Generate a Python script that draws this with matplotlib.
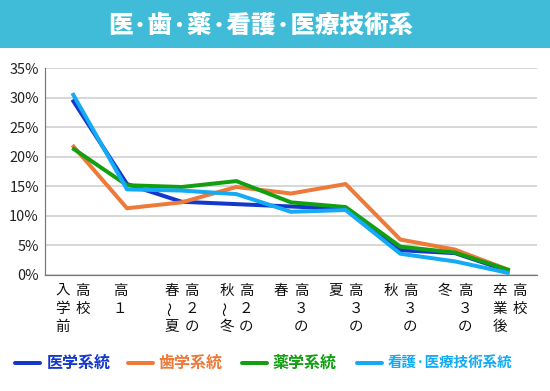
import matplotlib
matplotlib.use("Agg")
import matplotlib.pyplot as plt
from matplotlib.patches import Rectangle
from matplotlib.lines import Line2D

plt.rcParams['font.family'] = ['Noto Sans CJK JP', 'DejaVu Sans']

title = "医·歯·薬·看護·医療技術系"
# x labels: (left column, right column) of vertical text
cat_left = ["入学前", "", "春～夏", "秋～冬", "春", "夏", "秋", "冬", "卒業後"]
cat_right = ["高校", "高１", "高２の", "高２の", "高３の", "高３の", "高３の", "高３の", "高校"]

series_names = ["医学系統", "歯学系統", "薬学系統", "看護·医療技術系統"]
igaku = [29.7, 15.4, 12.4, 12.0, 11.6, 11.2, 4.2, 3.7, 0.6]
shigaku = [22.0, 11.3, 12.3, 14.9, 13.8, 15.4, 6.0, 4.3, 0.8]
yakugaku = [21.5, 15.2, 14.9, 15.9, 12.3, 11.5, 4.8, 3.8, 0.8]
kango = [30.8, 14.5, 14.3, 13.7, 10.7, 11.0, 3.6, 2.3, 0.3]
colors = ["#1438cc", "#ee7a3a", "#12a012", "#14aaf5"]

yticks = [0, 5, 10, 15, 20, 25, 30, 35]

W, H = 550, 391
fig = plt.figure(figsize=(W / 72, H / 72), dpi=72)
fig.patch.set_facecolor("white")

# title bar
fig.patches.append(Rectangle((0, 1 - 48 / H), 1, 48 / H, transform=fig.transFigure,
                             facecolor="#41bcd8", edgecolor="none", zorder=0))
fig.text(261 / W, 1 - 25 / H, title, color="white", fontsize=24.5, fontweight="black",
         ha="center", va="center")

ax = fig.add_axes([45 / W, 116 / H, 492 / W, (322.7 - 116) / H])
n = len(igaku)
xs = list(range(n))
for vals, c in zip([igaku, shigaku, yakugaku, kango], colors):
    ax.plot(xs, vals, color=c, lw=4, solid_joinstyle="round", solid_capstyle="butt", zorder=3)

ax.set_xlim(-0.5, n - 0.5)
ax.set_ylim(0, 35)
ax.set_yticks(yticks)
ax.set_yticklabels([f"{v}%" for v in yticks], fontsize=14.5, color="#222222")
ax.tick_params(axis="y", length=0, pad=6)
ax.set_xticks([])
ax.grid(axis="y", color="#cccccc", lw=1.5, zorder=0)
for s in ["top", "right"]:
    ax.spines[s].set_visible(False)
for s in ["left", "bottom"]:
    ax.spines[s].set_color("#777777")
    ax.spines[s].set_linewidth(1.2)
    ax.spines[s].set_zorder(4)

# vertical x labels
rows = [-16, -34, -52]
for i in range(n):
    cols = [(cat_left[i], -10), (cat_right[i], 10)]
    if cat_left[i] == "":
        cols = [(cat_right[i], -7)]
    for txt, dx in cols:
        for j, ch in enumerate(txt):
            rot = 90 if ch == "～" else 0
            ax.annotate(ch, xy=(i, 0), xycoords=("data", "axes fraction"),
                        xytext=(dx, rows[j]), textcoords="offset points",
                        ha="center", va="center", fontsize=14.5, color="#111111",
                        rotation=rot, annotation_clip=False)

# legend
leg = [(15, 40, 47, 16), (128, 153, 158, 16), (242, 267, 272, 16), (357, 382, 388, 14.5)]
ly = 1 - 363 / H
for (x0, x1, tx, fs), name, c in zip(leg, series_names, colors):
    fig.add_artist(Line2D([x0 / W, x1 / W], [ly, ly], transform=fig.transFigure,
                          color=c, lw=4, solid_capstyle="round"))
    fig.text(tx / W, ly, name, color=c, fontsize=fs, fontweight="bold",
             ha="left", va="center")

fig.savefig("out.png", dpi=72)
